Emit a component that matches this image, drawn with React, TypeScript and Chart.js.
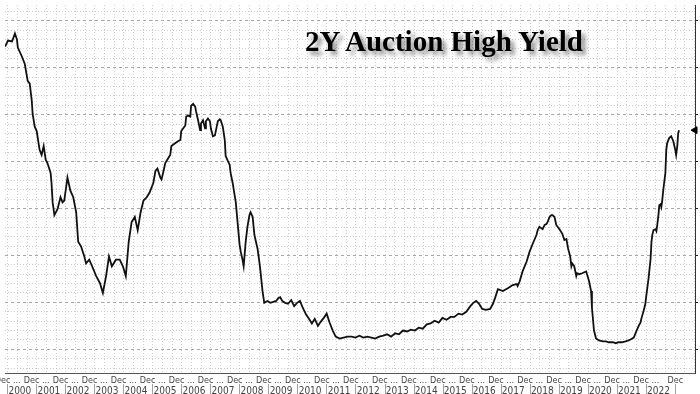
import React, { useEffect, useRef } from 'react';
import { Chart, registerables } from 'chart.js';

Chart.register(...registerables);

// Auction dates as decimal years, high yields in percent
const auctionDates = [
  1999.91, 2000.01, 2000.15, 2000.25, 2000.32, 2000.35, 2000.49, 2000.59, 2000.69, 2000.76,
  2000.83, 2000.86, 2000.93, 2001.0, 2001.1, 2001.17, 2001.24, 2001.31, 2001.37, 2001.48,
  2001.51, 2001.55, 2001.61, 2001.72, 2001.82, 2001.89, 2001.95, 2002.06, 2002.16, 2002.26,
  2002.36, 2002.43, 2002.53, 2002.64, 2002.7, 2002.81, 2002.91, 2003.05, 2003.18, 2003.28,
  2003.39, 2003.49, 2003.59, 2003.73, 2003.86, 2003.97, 2004.07, 2004.17, 2004.27, 2004.38,
  2004.48, 2004.58, 2004.68, 2004.79, 2004.89, 2005.02, 2005.09, 2005.16, 2005.26, 2005.3,
  2005.37, 2005.43, 2005.54, 2005.6, 2005.64, 2005.77, 2005.88, 2005.95, 2005.98, 2006.05,
  2006.12, 2006.15, 2006.22, 2006.29, 2006.32, 2006.39, 2006.46, 2006.49, 2006.56, 2006.63,
  2006.66, 2006.73, 2006.8, 2006.83, 2006.9, 2006.97, 2007.0, 2007.07, 2007.14, 2007.17,
  2007.24, 2007.31, 2007.34, 2007.41, 2007.48, 2007.51, 2007.58, 2007.65, 2007.68, 2007.75,
  2007.82, 2007.86, 2007.92, 2007.99, 2008.03, 2008.09, 2008.13, 2008.2, 2008.26, 2008.33,
  2008.37, 2008.44, 2008.5, 2008.54, 2008.61, 2008.67, 2008.71, 2008.78, 2008.84, 2008.95,
  2009.05, 2009.15, 2009.25, 2009.32, 2009.39, 2009.46, 2009.56, 2009.66, 2009.77, 2009.87,
  2009.97, 2010.07, 2010.17, 2010.28, 2010.38, 2010.48, 2010.58, 2010.69, 2010.79, 2010.89,
  2010.99, 2011.09, 2011.2, 2011.3, 2011.44, 2011.57, 2011.71, 2011.85, 2011.98, 2012.12,
  2012.25, 2012.39, 2012.53, 2012.66, 2012.8, 2012.94, 2013.07, 2013.21, 2013.35, 2013.48,
  2013.62, 2013.76, 2013.89, 2014.03, 2014.16, 2014.3, 2014.44, 2014.57, 2014.71, 2014.85,
  2014.98, 2015.12, 2015.26, 2015.39, 2015.53, 2015.66, 2015.8, 2015.94, 2016.04, 2016.14,
  2016.24, 2016.35, 2016.48, 2016.62, 2016.72, 2016.79, 2016.89, 2017.06, 2017.23, 2017.4,
  2017.54, 2017.57, 2017.64, 2017.74, 2017.88, 2017.98, 2018.09, 2018.22, 2018.26, 2018.32,
  2018.43, 2018.5, 2018.56, 2018.6, 2018.67, 2018.73, 2018.77, 2018.84, 2018.9, 2019.01,
  2019.11, 2019.18, 2019.25, 2019.31, 2019.38, 2019.42, 2019.45, 2019.52, 2019.59, 2019.62,
  2019.69, 2019.79, 2019.93, 2019.96, 2020.03, 2020.1, 2020.13, 2020.2, 2020.27, 2020.37,
  2020.51, 2020.61, 2020.71, 2020.85, 2020.95, 2021.05, 2021.16, 2021.29, 2021.39, 2021.46,
  2021.57, 2021.63, 2021.67, 2021.74, 2021.8, 2021.84, 2021.91, 2021.97, 2022.01, 2022.08,
  2022.15, 2022.18, 2022.21, 2022.25, 2022.32, 2022.35, 2022.38, 2022.42, 2022.45, 2022.49,
  2022.52, 2022.55, 2022.59, 2022.66, 2022.69, 2022.72, 2022.79, 2022.86, 2022.93, 2023.0,
  2023.03, 2023.07, 2023.1, 2023.13,
];

const highYield = [
  6.45, 6.58, 6.56, 6.73, 6.6, 6.43, 6.24, 6.08, 5.72, 5.66,
  5.3, 5.02, 4.75, 4.65, 4.25, 4.14, 4.33, 4.04, 3.97, 3.76,
  3.55, 3.13, 2.86, 2.99, 3.24, 3.13, 3.17, 3.66, 3.38, 3.24,
  2.92, 2.29, 2.19, 1.98, 1.83, 1.91, 1.77, 1.56, 1.41, 1.2,
  1.56, 1.98, 1.77, 1.91, 1.91, 1.77, 1.56, 2.29, 2.71, 2.82,
  2.54, 2.92, 3.17, 3.24, 3.34, 3.55, 3.8, 3.85, 3.66, 3.62,
  3.8, 3.97, 4.08, 4.14, 4.33, 4.39, 4.44, 4.46, 4.65, 4.71,
  4.77, 4.96, 4.98, 4.96, 5.19, 5.23, 5.17, 5.07, 4.88, 4.67,
  4.81, 4.88, 4.71, 4.86, 4.92, 4.86, 4.71, 4.54, 4.56, 4.65,
  4.86, 4.9, 4.88, 4.75, 4.46, 4.12, 4.02, 3.93, 3.76, 3.55,
  3.28, 3.13, 2.71, 2.23, 2.08, 1.91, 1.77, 2.29, 2.61, 2.86,
  2.92, 2.82, 2.44, 2.33, 2.14, 1.87, 1.66, 1.24, 0.99, 1.03,
  0.99, 1.01, 1.03, 1.09, 1.11, 1.03, 0.99, 0.97, 1.05, 0.92,
  0.99, 1.03, 0.88, 0.74, 0.65, 0.55, 0.65, 0.5, 0.59, 0.67,
  0.76, 0.57, 0.4, 0.27, 0.23, 0.25, 0.27, 0.27, 0.25, 0.29,
  0.25, 0.27, 0.25, 0.23, 0.27, 0.29, 0.32, 0.27, 0.34, 0.32,
  0.4, 0.38, 0.42, 0.4, 0.46, 0.44, 0.53, 0.55, 0.61, 0.57,
  0.67, 0.63, 0.69, 0.69, 0.76, 0.74, 0.8, 0.92, 0.99, 1.03,
  0.97, 0.86, 0.84, 0.86, 0.97, 1.09, 1.28, 1.24, 1.3, 1.37,
  1.39, 1.35, 1.45, 1.66, 1.87, 2.08, 2.25, 2.44, 2.54, 2.61,
  2.56, 2.65, 2.67, 2.71, 2.82, 2.86, 2.86, 2.82, 2.65, 2.56,
  2.46, 2.33, 2.35, 2.14, 1.98, 1.77, 1.83, 1.77, 1.56, 1.62,
  1.6, 1.62, 1.66, 1.6, 1.45, 1.24, 0.88, 0.4, 0.23, 0.19,
  0.17, 0.17, 0.15, 0.15, 0.13, 0.15, 0.15, 0.17, 0.19, 0.21,
  0.25, 0.34, 0.4, 0.5, 0.57, 0.67, 0.82, 0.97, 1.18, 1.51,
  1.93, 2.29, 2.44, 2.54, 2.56, 2.52, 2.65, 2.86, 3.07, 3.09,
  3.03, 3.17, 3.41, 3.76, 4.25, 4.39, 4.5, 4.54, 4.44, 4.25,
  4.14, 4.33, 4.6, 4.67,
];

const yearLabels = [
  '2000', '2001', '2002', '2003', '2004', '2005', '2006', '2007', '2008', '2009', '2010', '2011',
  '2012', '2013', '2014', '2015', '2016', '2017', '2018', '2019', '2020', '2021', '2022',
];
const boundaryLabel = 'Dec ...';
const lastBoundaryLabel = 'Dec';
const majorYTicks = [0, 1, 2, 3, 4, 5, 6, 7];
const chartTitle = '2Y Auction High Yield';

const X_MIN = 1999.908;
const X_MAX = 2023.68;
const Y_MIN = -0.505;
const Y_MAX = 7.337;

const axisFont = "'Liberation Sans Narrow', 'DejaVu Sans Condensed', 'Liberation Sans', sans-serif";

export default function App() {
  const canvasRef = useRef<HTMLCanvasElement | null>(null);

  useEffect(() => {
    if (!canvasRef.current) return;
    const firstYear = Number(yearLabels[0]);
    const endYear = Number(yearLabels[yearLabels.length - 1]) + 1;
    const isWhole = (v: number) => Math.abs(v - Math.round(v)) < 1e-6;

    const minorXTicks: number[] = [];
    for (let k = firstYear * 3; k / 3 <= X_MAX; k++) minorXTicks.push(k / 3);

    const yearRowTicks: number[] = [];
    for (let y = firstYear; y <= endYear; y++) {
      yearRowTicks.push(y);
      if (y < endYear) yearRowTicks.push(y + 0.42);
    }

    const minorYTicks: number[] = [];
    for (let k = Math.ceil(Y_MIN * 5); k / 5 <= Y_MAX; k++) {
      if (k % 5 !== 0) minorYTicks.push(k / 5);
    }

    const points = auctionDates.map((d, i) => ({ x: d, y: highYield[i] }));
    const lastValue = highYield[highYield.length - 1];

    const chart = new Chart(canvasRef.current, {
      type: 'line',
      data: {
        datasets: [
          {
            data: points,
            xAxisID: 'x',
            yAxisID: 'y',
            borderColor: '#111111',
            borderWidth: 1.8,
            pointRadius: 0,
            tension: 0,
            fill: false,
          },
          {
            data: [{ x: X_MAX, y: lastValue }],
            xAxisID: 'x',
            yAxisID: 'y',
            showLine: false,
            pointStyle: 'triangle',
            rotation: -90,
            pointRadius: 4,
            backgroundColor: '#000000',
            borderColor: '#000000',
            borderWidth: 1,
            clip: false,
          } as any,
        ],
      },
      options: {
        animation: false,
        responsive: false,
        maintainAspectRatio: false,
        layout: { padding: 0 },
        plugins: {
          legend: { display: false },
          tooltip: { enabled: false },
          title: { display: false },
        },
        scales: {
          x: {
            type: 'linear',
            axis: 'x',
            position: 'bottom',
            weight: 1,
            min: X_MIN,
            max: X_MAX,
            bounds: 'data',
            afterBuildTicks: (s: any) => {
              s.ticks = minorXTicks.map((v) => ({ value: v }));
            },
            afterFit: (s: any) => {
              s.height = 11;
              s.paddingLeft = 0;
              s.paddingRight = 0;
            },
            ticks: {
              autoSkip: false,
              maxRotation: 0,
              minRotation: 0,
              padding: 2,
              color: '#444444',
              font: { family: axisFont, size: 9 },
              callback: (v: any) => {
                const n = Number(v);
                if (!isWhole(n) || Math.round(n) === firstYear - 1) return '';
                return Math.round(n) === endYear ? lastBoundaryLabel : boundaryLabel;
              },
            },
            grid: { color: '#cccccc', lineWidth: 1, drawTicks: false },
            border: { display: true, color: '#555555', width: 1, dash: [1, 2] },
          } as any,
          x2: {
            type: 'linear',
            axis: 'x',
            position: 'bottom',
            weight: 2,
            min: X_MIN,
            max: X_MAX,
            bounds: 'data',
            afterBuildTicks: (s: any) => {
              s.ticks = yearRowTicks.map((v) => ({ value: v }));
            },
            afterFit: (s: any) => {
              s.height = 10;
              s.paddingLeft = 0;
              s.paddingRight = 0;
            },
            ticks: {
              autoSkip: false,
              maxRotation: 0,
              minRotation: 0,
              padding: -9,
              color: '#444444',
              font: { family: axisFont, size: 10 },
              callback: (v: any) => {
                const n = Number(v);
                if (isWhole(n)) return '';
                const idx = Math.floor(n) - firstYear;
                return yearLabels[idx] ?? '';
              },
            },
            grid: {
              drawOnChartArea: false,
              drawTicks: true,
              tickLength: 10,
              color: (ctx: any) => (ctx.tick && isWhole(ctx.tick.value) ? '#a0a0a0' : 'rgba(0,0,0,0)'),
              tickColor: (ctx: any) => (ctx.tick && isWhole(ctx.tick.value) ? '#a0a0a0' : 'rgba(0,0,0,0)'),
            },
            border: { display: false },
          } as any,
          y: {
            type: 'linear',
            axis: 'y',
            position: 'right',
            weight: 1,
            min: Y_MIN,
            max: Y_MAX,
            bounds: 'data',
            afterBuildTicks: (s: any) => {
              s.ticks = majorYTicks.map((v) => ({ value: v }));
            },
            afterFit: (s: any) => {
              s.width = 3;
              s.paddingTop = 0;
              s.paddingBottom = 0;
            },
            ticks: { display: false },
            grid: {
              color: '#a6a6a6',
              lineWidth: 1,
              drawTicks: true,
              tickLength: 3,
              tickColor: '#222222',
              tickBorderDash: [],
            },
            border: { display: true, color: '#333333', width: 1, dash: [3, 3] },
          } as any,
          yMinor: {
            type: 'linear',
            axis: 'y',
            position: 'right',
            weight: 0,
            min: Y_MIN,
            max: Y_MAX,
            bounds: 'data',
            afterBuildTicks: (s: any) => {
              s.ticks = minorYTicks.map((v) => ({ value: v }));
            },
            afterFit: (s: any) => {
              s.width = 0;
              s.paddingTop = 0;
              s.paddingBottom = 0;
            },
            ticks: { display: false },
            grid: { color: '#cccccc', lineWidth: 1, drawTicks: false },
            border: { display: false, dash: [1, 2] },
          } as any,
        },
      },
    });

    return () => chart.destroy();
  }, []);

  return (
    <div
      style={{
        position: 'fixed',
        left: 0,
        top: 0,
        width: 700,
        height: 394,
        background: '#ffffff',
        overflow: 'hidden',
      }}
    >
      <canvas ref={canvasRef} width={700} height={394} style={{ display: 'block' }} />
      <div
        style={{
          position: 'absolute',
          left: 305,
          top: 27,
          whiteSpace: 'nowrap',
          fontFamily: "'Liberation Serif', 'Times New Roman', serif",
          fontWeight: 'bold',
          fontSize: 29,
          lineHeight: '29px',
          color: '#000000',
          textShadow: '4px 4px 4px rgba(0,0,0,0.45)',
        }}
      >
        {chartTitle}
      </div>
    </div>
  );
}
